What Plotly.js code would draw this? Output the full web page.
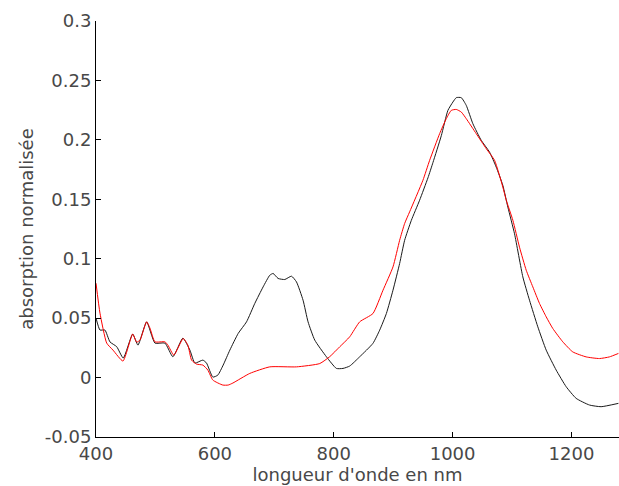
<!DOCTYPE html>
<html><head><meta charset="utf-8">
<script src="https://cdn.plot.ly/plotly-3.0.1.min.js"></script>
<style>html,body{margin:0;padding:0;background:#fff;}#chart{width:619px;height:486px;}</style>
</head><body><div id="chart"></div>
<script>
const blackX = [400,406.7,415,423.5,434.8,445.9,461.7,470.6,485.2,499.2,516,529.4,546.2,558,566.4,579.8,586,596.6,605,614,625.2,639.2,653.3,667.2,681.2,692.4,698,706.4,717.6,728.9,737.3,748.4,756.8,768.1,787.7,804.5,815.6,826.9,843.7,866,877.3,888.6,899.7,910.9,919.3,930.6,944.5,958.5,967,981,992.1,1000.5,1006.2,1014.6,1023,1034.1,1048.2,1062.2,1073.4,1084.5,1093,1104.2,1118.2,1129.4,1143.4,1157.5,1174.3,1191.1,1207.9,1230.3,1249.9,1279];
const blackY = [0.050,0.040,0.040,0.030,0.026,0.0164,0.0366,0.0273,0.0469,0.029,0.029,0.0175,0.0332,0.0231,0.0122,0.0147,0.0122,0.0004,0.0021,0.0105,0.0231,0.0371,0.0469,0.0624,0.0763,0.0861,0.0876,0.0834,0.0825,0.0853,0.0805,0.0651,0.0469,0.0315,0.0175,0.0077,0.0077,0.0097,0.0175,0.0288,0.0399,0.0539,0.0735,0.096,0.1155,0.1323,0.1492,0.168,0.181,0.2035,0.2248,0.2318,0.2355,0.2355,0.229,0.2136,0.1996,0.1897,0.1771,0.1618,0.1434,0.121,0.0847,0.0651,0.0427,0.0231,0.0063,-0.0077,-0.0175,-0.0231,-0.0245,-0.0217];
const redX = [400,406.7,418,428.6,445.4,461.7,468.4,474,485.2,490.8,499.2,516,521,531,546.7,554.6,560.8,569.2,579.8,588.2,596.6,613.4,622.4,630.3,658.8,692.4,737.3,776.5,793.3,810.1,826.9,843.7,866,882.9,899.7,910.9,919.3,927.7,950.1,961.4,978.2,989.4,997.8,1006.2,1014.6,1023,1039.8,1056.6,1070.6,1084.5,1090.3,1101.4,1112.6,1123.9,1135,1146.2,1157.5,1168.6,1185.4,1202.2,1224.7,1247.1,1263.9,1279];
const redY = [0.0794,0.0542,0.029,0.0231,0.0139,0.0366,0.0298,0.0315,0.0469,0.0416,0.0301,0.0301,0.0273,0.0189,0.0329,0.0273,0.0147,0.0113,0.0105,0.0063,-0.0021,-0.0063,-0.0063,-0.0046,0.0035,0.009,0.009,0.0118,0.0176,0.0259,0.0343,0.0469,0.0539,0.0735,0.0931,0.1155,0.1296,0.1394,0.166,0.1828,0.2052,0.2178,0.2248,0.2256,0.2234,0.2178,0.2052,0.1926,0.1828,0.1603,0.1492,0.1324,0.1097,0.0903,0.0763,0.0624,0.0511,0.0413,0.0301,0.0216,0.0174,0.016,0.0174,0.0203];
const xTicks = [400,600,800,1000,1200];
const yTicks = [-0.05,0,0.05,0.1,0.15,0.2,0.25,0.3];
const yTickText = ['-0.05','0','0.05','0.1','0.15','0.2','0.25','0.3'];

const traces = [
  {x: blackX, y: blackY, type:'scatter', mode:'lines', line:{color:'#1a1a1a', width:1, shape:'spline', smoothing:0.5}, showlegend:false, hoverinfo:'skip'},
  {x: redX, y: redY, type:'scatter', mode:'lines', line:{color:'#ff0000', width:1, shape:'spline', smoothing:0.5}, showlegend:false, hoverinfo:'skip'}
];
const font = {family:'DejaVu Sans, sans-serif', size:18, color:'#484848'};
const layout = {
  width:619, height:486,
  margin:{l:96, r:0, t:21, b:49, pad:0},
  paper_bgcolor:'#fff', plot_bgcolor:'#fff',
  font: font,
  xaxis:{range:[400,1280], tickvals:xTicks, ticktext:xTicks.map(String), ticks:'inside', ticklen:5, tickcolor:'#000',
    showline:true, linecolor:'#000', linewidth:1, showgrid:false, zeroline:false, tickfont:font,
    title:{text:"longueur d'onde en nm", font:font, standoff:2}},
  yaxis:{range:[-0.05,0.3], tickvals:yTicks, ticktext:yTickText, ticks:'inside', ticklen:5, tickcolor:'#000',
    showline:true, linecolor:'#000', linewidth:1, showgrid:false, zeroline:false, tickfont:font,
    title:{text:'absorption normalisée', font:font, standoff:6}}
};
Plotly.newPlot('chart', traces, layout, {staticPlot:true, displayModeBar:false});
</script></body></html>
